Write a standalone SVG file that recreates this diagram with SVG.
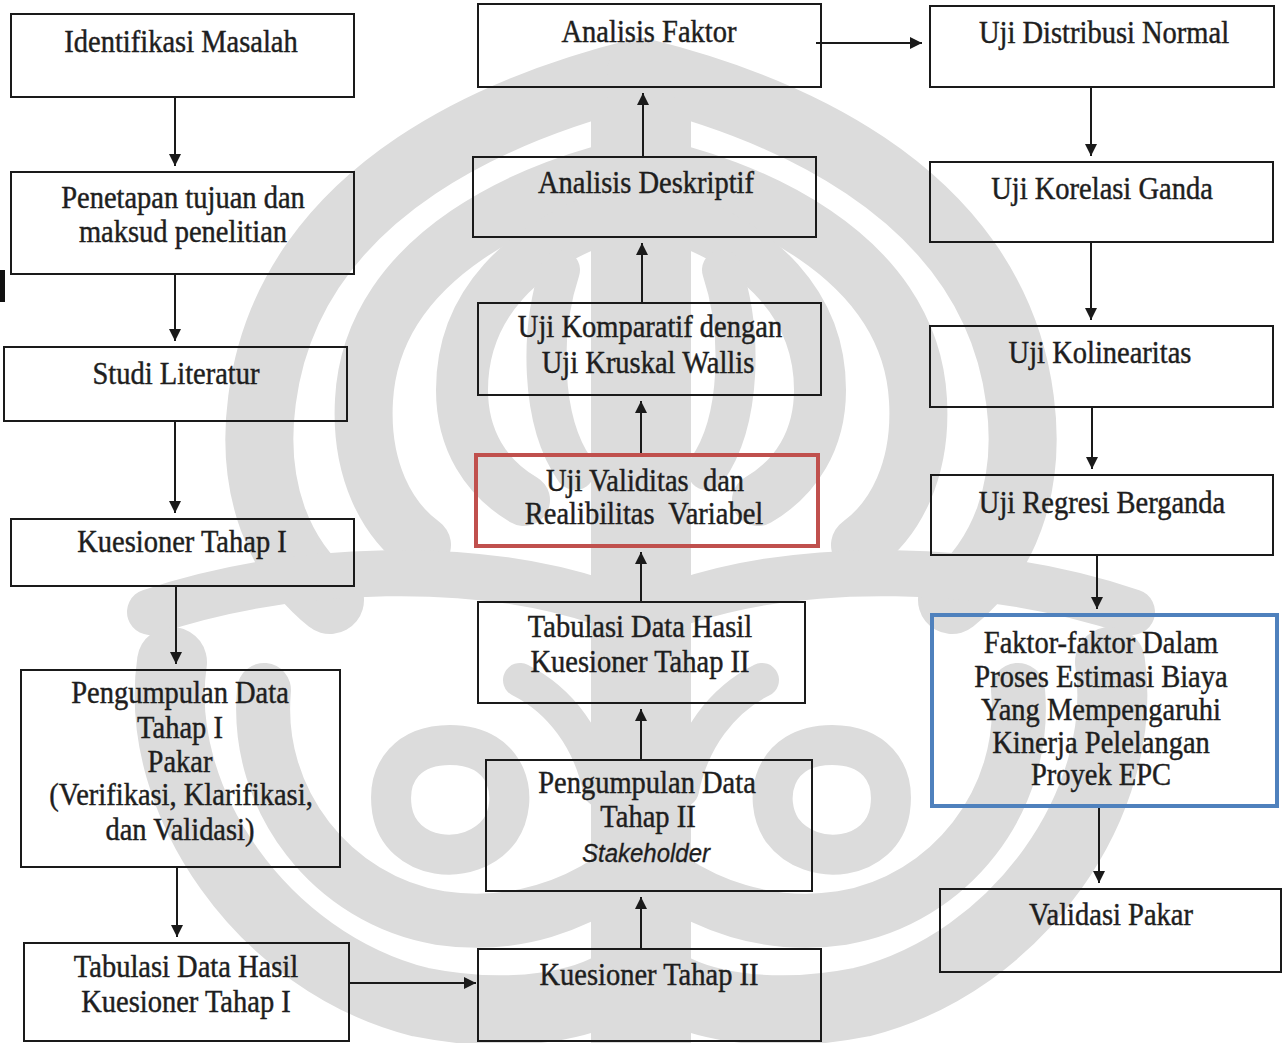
<svg xmlns="http://www.w3.org/2000/svg" width="1283" height="1043" viewBox="0 0 1283 1043">
  <style>
    .box { fill: none; stroke: #1a1a1a; stroke-width: 2; }
    .red { stroke: #c0504d; stroke-width: 4; }
    .blue { stroke: #4f81bd; stroke-width: 4; }
    .t { font-family: "Liberation Serif", "Times New Roman", serif; font-size: 28.5px; fill: #1e1e1e; stroke: #1e1e1e; stroke-width: 0.4; text-anchor: middle; }
    .it { font-family: "Liberation Sans", Arial, sans-serif; font-size: 24px; font-style: italic; fill: #1e1e1e; stroke: #1e1e1e; stroke-width: 0.3; text-anchor: middle; }
    .conn path { fill: none; stroke: #1a1a1a; stroke-width: 2; marker-end: url(#ah); }
  </style>
  <defs>
    <marker id="ah" markerUnits="userSpaceOnUse" markerWidth="12" markerHeight="12" refX="12" refY="6" orient="auto">
      <path d="M0,0 L12,6 L0,12 Z" fill="#1a1a1a"/>
    </marker>
    <!-- left half of the background emblem; the right half is its mirror -->
    <g id="emblem-half" fill="none" stroke="#dcdcdc" stroke-linecap="round">
      <path d="M641,72 C520,102 290,182 262,400 C250,490 280,560 330,600" stroke-width="68"/>
      <path d="M641,165 C540,185 372,252 364,400 C360,470 387,520 422,545" stroke-width="58"/>
      <path d="M612,215 C522,245 462,305 462,390 C462,440 486,478 524,500" stroke-width="52"/>
      <path d="M560,270 C540,330 540,420 575,470" stroke-width="40"/>
      <path d="M150,612 C300,562 480,562 600,602" stroke-width="46"/>
      <path d="M172,662 C152,800 262,962 420,1002 C520,1022 590,1002 620,982" stroke-width="70"/>
      <path d="M264,690 C254,800 332,900 440,918 C520,930 580,900 610,880" stroke-width="54"/>
      <path d="M450,745 C510,745 520,800 500,830 C470,870 400,860 392,810 C386,770 410,745 450,745 Z" stroke-width="40"/>
      <path d="M520,680 C560,700 590,740 600,790" stroke-width="34"/>
    </g>
  </defs>

  <rect width="1283" height="1043" fill="#ffffff"/>

  <!-- background emblem -->
  <g id="emblem">
    <use href="#emblem-half"/>
    <use href="#emblem-half" transform="matrix(-1 0 0 1 1282 0)"/>
    <path d="M641,95 L641,1043" fill="none" stroke="#dcdcdc" stroke-width="100"/>
    <path d="M641,43 L606,100 L676,100 Z" fill="#dcdcdc"/>
  </g>

  <!-- stray margin mark -->
  <rect x="0" y="270" width="5" height="32" fill="#111111"/>

  <!-- connectors -->
  <g class="conn">
    <path d="M175,97 L175,166"/>
    <path d="M175,275 L175,341"/>
    <path d="M175,422 L175,513"/>
    <path d="M176,587 L176,664"/>
    <path d="M177,867 L177,937"/>
    <path d="M349,983 L476,983"/>
    <path d="M641,949 L641,897"/>
    <path d="M641,760 L641,709"/>
    <path d="M641,601 L641,552"/>
    <path d="M641,453 L641,401"/>
    <path d="M642,303 L642,243"/>
    <path d="M643,157 L643,93"/>
    <path d="M816,43 L922,43"/>
    <path d="M1091,87 L1091,156"/>
    <path d="M1091,242 L1091,320"/>
    <path d="M1092,408 L1092,469"/>
    <path d="M1097,556 L1097,609"/>
    <path d="M1099,807 L1099,883"/>
  </g>

  <!-- left column -->
  <g id="identifikasi-masalah">
    <rect class="box" x="11" y="14" width="343" height="83"/>
    <text class="t" transform="translate(181 52) scale(1 1.08)">Identifikasi Masalah</text>
  </g>
  <g id="penetapan-tujuan">
    <rect class="box" x="11" y="172" width="343" height="102"/>
    <text class="t" transform="translate(183 208) scale(1 1.08)">Penetapan tujuan dan</text>
    <text class="t" transform="translate(183 242) scale(1 1.08)">maksud penelitian</text>
  </g>
  <g id="studi-literatur">
    <rect class="box" x="4" y="347" width="343" height="74"/>
    <text class="t" transform="translate(176 384) scale(1 1.08)">Studi Literatur</text>
  </g>
  <g id="kuesioner-tahap-1">
    <rect class="box" x="11" y="519" width="343" height="67"/>
    <text class="t" transform="translate(182 552) scale(1 1.08)">Kuesioner Tahap I</text>
  </g>
  <g id="pengumpulan-data-1">
    <rect class="box" x="21" y="670" width="319" height="197"/>
    <text class="t" transform="translate(180 703) scale(1 1.08)">Pengumpulan Data</text>
    <text class="t" transform="translate(180 738) scale(1 1.08)">Tahap I</text>
    <text class="t" transform="translate(180 772) scale(1 1.08)">Pakar</text>
    <text class="t" transform="translate(181 805) scale(1 1.08)">(Verifikasi, Klarifikasi,</text>
    <text class="t" transform="translate(180 840) scale(1 1.08)">dan Validasi)</text>
  </g>
  <g id="tabulasi-data-1">
    <rect class="box" x="24" y="943" width="325" height="98"/>
    <text class="t" transform="translate(186 977) scale(1 1.08)">Tabulasi Data Hasil</text>
    <text class="t" transform="translate(186 1012) scale(1 1.08)">Kuesioner Tahap I</text>
  </g>

  <!-- middle column -->
  <g id="analisis-faktor">
    <rect class="box" x="478" y="4" width="343" height="83"/>
    <text class="t" transform="translate(649 42) scale(1 1.08)">Analisis Faktor</text>
  </g>
  <g id="analisis-deskriptif">
    <rect class="box" x="473" y="157" width="343" height="80"/>
    <text class="t" transform="translate(646 193) scale(1 1.08)">Analisis Deskriptif</text>
  </g>
  <g id="uji-komparatif">
    <rect class="box" x="478" y="303" width="343" height="92"/>
    <text class="t" transform="translate(650 337) scale(1 1.08)">Uji Komparatif dengan</text>
    <text class="t" transform="translate(648 373) scale(1 1.08)">Uji Kruskal Wallis</text>
  </g>
  <g id="uji-validitas">
    <rect class="box red" x="476" y="455" width="342" height="91"/>
    <text class="t" xml:space="preserve" transform="translate(645 491) scale(1 1.08)">Uji Validitas  dan</text>
    <text class="t" xml:space="preserve" transform="translate(644 524) scale(1 1.08)">Realibilitas  Variabel</text>
  </g>
  <g id="tabulasi-data-2">
    <rect class="box" x="478" y="602" width="327" height="101"/>
    <text class="t" transform="translate(640 637) scale(1 1.08)">Tabulasi Data Hasil</text>
    <text class="t" transform="translate(640 672) scale(1 1.08)">Kuesioner Tahap II</text>
  </g>
  <g id="pengumpulan-data-2">
    <rect class="box" x="486" y="760" width="326" height="131"/>
    <text class="t" transform="translate(647 793) scale(1 1.08)">Pengumpulan Data</text>
    <text class="t" transform="translate(648 827) scale(1 1.08)">Tahap II</text>
    <text class="it" transform="translate(646 862) scale(1 1.08)">Stakeholder</text>
  </g>
  <g id="kuesioner-tahap-2">
    <rect class="box" x="478" y="949" width="343" height="92"/>
    <text class="t" transform="translate(649 985) scale(1 1.08)">Kuesioner Tahap II</text>
  </g>

  <!-- right column -->
  <g id="uji-distribusi-normal">
    <rect class="box" x="930" y="6" width="344" height="81"/>
    <text class="t" transform="translate(1104 43) scale(1 1.08)">Uji Distribusi Normal</text>
  </g>
  <g id="uji-korelasi-ganda">
    <rect class="box" x="930" y="162" width="343" height="80"/>
    <text class="t" transform="translate(1102 199) scale(1 1.08)">Uji Korelasi Ganda</text>
  </g>
  <g id="uji-kolinearitas">
    <rect class="box" x="930" y="326" width="343" height="81"/>
    <text class="t" transform="translate(1100 363) scale(1 1.08)">Uji Kolinearitas</text>
  </g>
  <g id="uji-regresi-berganda">
    <rect class="box" x="931" y="475" width="342" height="80"/>
    <text class="t" transform="translate(1102 513) scale(1 1.08)">Uji Regresi Berganda</text>
  </g>
  <g id="faktor-faktor">
    <rect class="box blue" x="932" y="615" width="345" height="191"/>
    <text class="t" transform="translate(1101 653) scale(1 1.08)">Faktor-faktor Dalam</text>
    <text class="t" transform="translate(1101 687) scale(1 1.08)">Proses Estimasi Biaya</text>
    <text class="t" transform="translate(1101 720) scale(1 1.08)">Yang Mempengaruhi</text>
    <text class="t" transform="translate(1101 753) scale(1 1.08)">Kinerja Pelelangan</text>
    <text class="t" transform="translate(1101 785) scale(1 1.08)">Proyek EPC</text>
  </g>
  <g id="validasi-pakar">
    <rect class="box" x="940" y="889" width="341" height="83"/>
    <text class="t" transform="translate(1111 925) scale(1 1.08)">Validasi Pakar</text>
  </g>
</svg>
